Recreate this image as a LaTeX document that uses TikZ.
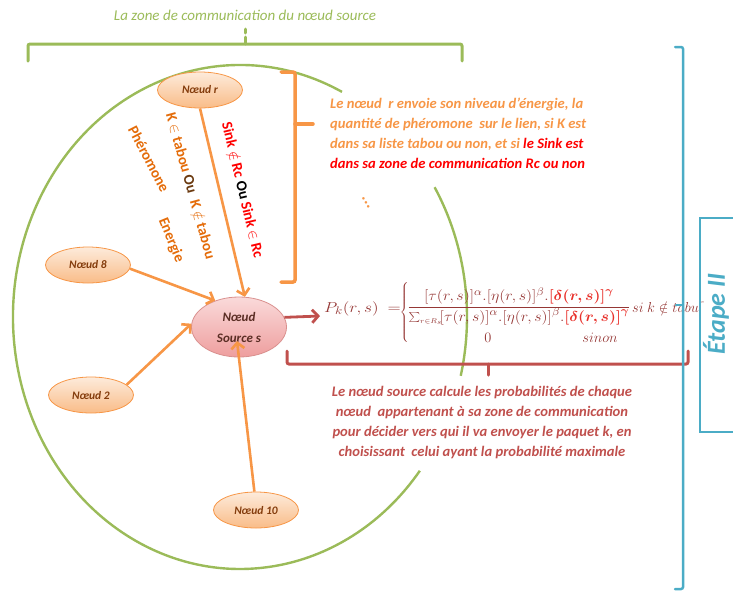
\documentclass[tikz,border=0pt]{standalone}
\usepackage{fontspec}
\setmainfont{Carlito}
\usepackage{bm}
\usepackage{graphicx}
\usetikzlibrary{shapes.geometric,arrows.meta}

\definecolor{zonegreen}{HTML}{9BBB59}
\definecolor{lineorange}{HTML}{F79646}
\definecolor{txorange}{HTML}{E46C0A}
\definecolor{txlight}{HTML}{F79646}
\definecolor{oubrown}{HTML}{6B3A10}
\definecolor{sinkred}{HTML}{FF0000}
\definecolor{brred}{HTML}{C0504D}
\definecolor{formred}{HTML}{953735}
\definecolor{deltared}{HTML}{E8302A}
\definecolor{etblue}{HTML}{4BACC6}
\definecolor{nodetext}{HTML}{843C0C}
\definecolor{srctext}{HTML}{5A2D24}
\definecolor{peachtop}{HTML}{FDEBDB}
\definecolor{peachbot}{HTML}{F9BC88}
\definecolor{pinkline}{HTML}{D9908E}
\definecolor{pinktop}{HTML}{FADADA}
\definecolor{pinkbot}{HTML}{EE9E9E}

\tikzset{
  zone/.style={draw=zonegreen, line width=2.4pt},
  onode/.style={ellipse, draw=lineorange, line width=0.8pt,
    top color=peachtop, bottom color=peachbot,
    minimum width=85pt, minimum height=36pt, inner sep=0pt,
    font=\bfseries\itshape\fontsize{11.5}{13}\selectfont, text=nodetext},
  srcnode/.style={ellipse, draw=pinkline, line width=0.8pt,
    top color=pinktop, bottom color=pinkbot, align=center,
    minimum width=95pt, minimum height=60pt, inner sep=0pt,
    font=\bfseries\itshape\fontsize{13}{21}\selectfont, text=srctext},
  oarrow/.style={draw=lineorange, line width=2.6pt,
    -{Straight Barb[length=6pt,width=13pt]}},
  rarrow/.style={draw=brred, line width=2.8pt,
    -{Straight Barb[length=6pt,width=13pt]}},
  rtext/.style={font=\bfseries\fontsize{15}{17}\selectfont, inner sep=0pt},
  bracket/.style={line width=3pt, rounded corners=2pt, line cap=round},
  formula/.style={text=formred, inner sep=0pt, font=\fontsize{15}{18}\selectfont},
  caption/.style={inner sep=0pt, font=\bfseries\itshape\fontsize{14.6}{20}\selectfont},
}

\newcommand{\dgroup}{\textcolor{deltared}{\bm{[\delta(r,s)]^{\gamma}}}}

\begin{document}
\begin{tikzpicture}[x=1pt,y=-1pt]
\useasboundingbox (0,0) rectangle (733,595);
\clip (0,0) rectangle (733,595);

% communication zone of the source node (broken where the captions sit)
\draw[zone] ([shift={(240,317)}]63.3:227pt and 252pt)
  arc[start angle=63.3, end angle=322.4, x radius=227pt, y radius=252pt];
\draw[zone] ([shift={(240,317)}]31:227pt and 252pt)
  arc[start angle=31, end angle=-13.5, x radius=227pt, y radius=252pt];

% green bracket with its caption
\node[font=\itshape\fontsize{15}{17}\selectfont, text=zonegreen] (title) at (245,15)
  {La zone de communication du nœud source};
\draw[bracket, draw=zonegreen] (28,61) -- (28,44) -- (462,44) -- (462,61);
\draw[bracket, draw=zonegreen, rounded corners=0pt] (245,44) -- (245,37);
\draw[bracket, draw=zonegreen, rounded corners=0pt] (245,33) -- (245,29);

% orange bracket next to the message of node r
\draw[bracket, draw=lineorange, line width=3.5pt] (281,72) -- (295,72) -- (295,282) -- (281,282);
\draw[bracket, draw=lineorange, line width=3.5pt] (295,124) -- (313,124);

\node[caption, anchor=north west, align=left, text=txlight] (rtxt) at (330,98)
  {Le nœud~~r envoie son niveau d’énergie, la\\
   quantité de phéromone~~sur le lien, si K est\\
   dans sa liste tabou ou non, et si \textcolor{sinkred}{le Sink est}\\
   \textcolor{sinkred}{dans sa zone de communication Rc ou non}};

\node[rotate=-58, inner sep=0pt, text=lineorange, font=\bfseries\fontsize{17}{19}\selectfont] (dots) at (366,203) {...};

% labels along the link from node r
\node[rtext, rotate=-76.5, text=sinkred] (sink) at (243,190)
  {Sink $\notin$ Rc \textcolor{black}{Ou} Sink $\in$ Rc};
\node[rtext, rotate=-74.5] (tabou) at (191,186)
  {\textcolor{txorange}{K $\in$ tabou} \textcolor{oubrown}{Ou}~~\textcolor{txorange}{K $\notin$ tabou}};
\node[rtext, rotate=-62.7, text=txorange] (phero) at (149,159) {Phéromone};
\node[rtext, rotate=-67.7, text=txorange] (energ) at (171,240) {Energie};

% nodes
\node[onode] (nr) at (200,90) {Nœud r};
\node[onode] (n8) at (88,265) {Nœud 8};
\node[onode] (n2) at (91,395) {Nœud 2};
\node[onode] (n10) at (256,510) {Nœud 10};
\node[srcnode] (src) at (239,327) {Nœud\\Source s};

% links towards the source
\draw[oarrow] (nr.south) -- (src.79);
\draw[oarrow] (n8.-5) -- (src.132);
\draw[oarrow] (n2.16) -- (src.176);
\draw[oarrow] (n10.95) -- ([xshift=-2pt,yshift=-14pt]src.center);

% transition probability
\coordinate (ptip) at (320,316);
\draw[rarrow] (src.12) -- (ptip);
\node[formula, anchor=base east] (pk) at (401,312)
  {\scalebox{1.2}[1]{$P_k(r,s)\ =$}};
\node[formula, anchor=center] (brace) at (405,313) {$\left\{\rule[-27pt]{0pt}{55pt}\right.$};
\node[formula, anchor=base] (frac) at (519,310.5)
  {\scalebox{1.1}[1]{$\displaystyle\frac{\textstyle[\tau(r,s)]^{\alpha}.[\eta(r,s)]^{\beta}.\dgroup}
    {\textstyle\sum\nolimits_{\scriptscriptstyle r\in R_s}\![\tau(r,s)]^{\alpha}.[\eta(r,s)]^{\beta}.\dgroup}$}};
\node[formula, anchor=base west] (cond) at (632,312) {$si\ k\notin tabu^{r}$};
\node[formula, anchor=base] (zero) at (488,342) {$0$};
\node[formula, anchor=base] (sinon) at (600,342) {$sinon$};

% red bracket with the explanation
\draw[bracket, draw=brred] (287,351) -- (287,364) -- (688,364) -- (688,351);
\draw[bracket, draw=brred, rounded corners=0pt] (488,364) -- (488,375);
\node[caption, anchor=north, align=center, text=brred] (stxt) at (482,386)
  {Le nœud source calcule les probabilités de chaque\\
   nœud~~appartenant à sa zone de communication\\
   pour décider vers qui il va envoyer le paquet k, en\\
   choisissant~~celui ayant la probabilité maximale};

% step bracket and label
\draw[bracket, draw=etblue, line width=2.5pt] (675,47) -- (683,47) -- (683,589) -- (675,589);
\draw[bracket, draw=etblue, line width=2.5pt, rounded corners=0pt] (683,305) -- (676,305);
\draw[draw=etblue, line width=2.5pt] (700,218) rectangle (745,432);
\node[rotate=90, inner sep=0pt, text=etblue,
  font=\bfseries\itshape\fontsize{26}{28}\selectfont] (etape) at (716,314) {Étape II};
\end{tikzpicture}
\end{document}
